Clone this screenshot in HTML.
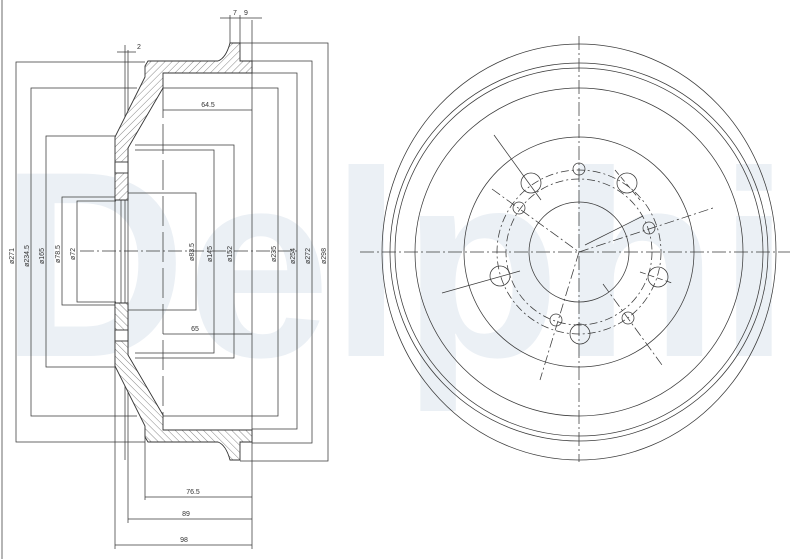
<!DOCTYPE html>
<html><head><meta charset="utf-8"><style>
html,body{margin:0;padding:0;background:#fff;}
svg{display:block;font-family:"Liberation Sans",sans-serif;}
</style></head><body>
<svg width="792" height="559" viewBox="0 0 792 559" xmlns="http://www.w3.org/2000/svg">
<defs>
<pattern id="h" width="5" height="5" patternUnits="userSpaceOnUse" patternTransform="rotate(45)">
<rect width="5" height="5" fill="#fff"/><line x1="0" y1="0" x2="0" y2="5" stroke="#555" stroke-width="0.7"/>
</pattern>
</defs>
<rect width="792" height="559" fill="#fff"/>
<text x="0" y="356" font-size="265" font-weight="bold" fill="#ebf0f5" textLength="790" lengthAdjust="spacingAndGlyphs">Delphi</text>

<g stroke="#3a3a3a" stroke-width="0.75" fill="none">
<line x1="2" y1="0" x2="2" y2="559"/>
<polyline points="145,62 16,62 16,442 145,442"/>
<polyline points="137,88 31,88 31,416 137,416"/>
<polyline points="115,136 46,136 46,367 115,367"/>
<polyline points="115,197 62,197 62,305 115,305"/>
<polyline points="116,201 77,201 77,302 116,302"/>
<polyline points="128,193 196,193 196,310 128,310"/>
<polyline points="135,150 214,150 214,353 135,353"/>
<polyline points="135,145 234,145 234,358 135,358"/>
<polyline points="163,88 278,88 278,416 163,416"/>
<polyline points="252,73 297,73 297,429 252,429"/>
<polyline points="252,61 312,61 312,443 252,443"/>
<polyline points="240,43 328,43 328,461 240,461"/>
<line x1="115" y1="199" x2="115" y2="549"/>
<line x1="121" y1="200" x2="121" y2="305"/>
<line x1="125" y1="45" x2="125" y2="460"/>
<line x1="128" y1="50" x2="128" y2="523"/>
<line x1="145" y1="420" x2="145" y2="500"/>
<line x1="163" y1="88" x2="163" y2="416" stroke-dasharray="30,6"/>
<line x1="252" y1="20" x2="252" y2="549"/>
<line x1="230" y1="15" x2="230" y2="43"/>
<line x1="240" y1="15" x2="240" y2="43"/>
<line x1="163" y1="110" x2="252" y2="110"/>
<line x1="163" y1="334" x2="252" y2="334"/>
<line x1="145" y1="497" x2="252" y2="497"/>
<line x1="128" y1="519" x2="252" y2="519"/>
<line x1="115" y1="545" x2="252" y2="545"/>
<line x1="220" y1="18" x2="262" y2="18"/>
<line x1="117" y1="52" x2="136" y2="52"/>
<line x1="80" y1="251" x2="300" y2="251" stroke-dasharray="14,3,2,3"/>
</g>

<g stroke="#333" stroke-width="0.9">
<path fill="url(#h)" d="M148,61 L218,61 Q226,58 230,43 L240,43 L240,61 L252,61 L252,73 L163,73 L163,88 L128,148 L128,200 L115,200 L115,137 L145,77 L145,66 Z"/>
<path fill="url(#h)" transform="translate(0,503) scale(1,-1)" d="M148,61 L218,61 Q226,58 230,43 L240,43 L240,61 L252,61 L252,73 L163,73 L163,88 L128,148 L128,200 L115,200 L115,137 L145,77 L145,66 Z"/>
<rect x="115" y="162" width="13" height="11" fill="#fff"/>
<rect x="115" y="330" width="13" height="11" fill="#fff"/>
</g>

<g font-size="7" fill="#333">
<text x="235" y="15" text-anchor="middle">7</text>
<text x="246" y="15" text-anchor="middle">9</text>
<text x="139" y="49" text-anchor="middle">2</text>
<text x="208" y="107" text-anchor="middle">64.5</text>
<text x="195" y="331" text-anchor="middle">65</text>
<text x="193" y="494" text-anchor="middle">76.5</text>
<text x="186" y="516" text-anchor="middle">89</text>
<text x="184" y="542" text-anchor="middle">98</text>
<g text-anchor="middle">
<text transform="translate(14,256) rotate(-90)">ø271</text>
<text transform="translate(29,256) rotate(-90)">ø234.5</text>
<text transform="translate(44,256) rotate(-90)">ø165</text>
<text transform="translate(60,254) rotate(-90)">ø78.5</text>
<text transform="translate(75,254) rotate(-90)">ø72</text>
<text transform="translate(194,252) rotate(-90)">ø83.5</text>
<text transform="translate(212,254) rotate(-90)">ø145</text>
<text transform="translate(232,254) rotate(-90)">ø152</text>
<text transform="translate(276,254) rotate(-90)">ø235</text>
<text transform="translate(295,256) rotate(-90)">ø254</text>
<text transform="translate(310,256) rotate(-90)">ø272</text>
<text transform="translate(326,256) rotate(-90)">ø298</text>
</g>
</g>

<g stroke="#3a3a3a" stroke-width="0.75" fill="none">
<ellipse cx="579" cy="252" rx="197" ry="208"/>
<circle cx="579" cy="252" r="189"/>
<circle cx="579" cy="252" r="184"/>
<circle cx="579" cy="252" r="164"/>
<circle cx="579" cy="252" r="115"/>
<circle cx="579" cy="252" r="50"/>
<circle cx="579" cy="252" r="82" stroke-dasharray="8,3,2,3"/>
<circle cx="579" cy="252" r="73" stroke-dasharray="8,3,2,3"/>
<line x1="360" y1="252" x2="790" y2="252" stroke-dasharray="14,3,2,3"/>
<line x1="579" y1="36" x2="579" y2="462" stroke-dasharray="14,3,2,3"/>
<circle cx="579" cy="169" r="6"/>
<circle cx="531" cy="183" r="10"/>
<circle cx="627" cy="183" r="10"/>
<circle cx="519" cy="208" r="6"/>
<circle cx="649" cy="228" r="6"/>
<circle cx="500" cy="276" r="10"/>
<circle cx="658" cy="277" r="10"/>
<circle cx="556" cy="320" r="6"/>
<circle cx="580" cy="334" r="10"/>
<circle cx="628" cy="318" r="6"/>
<line x1="494" y1="135" x2="541" y2="200"/>
<line x1="492" y1="189" x2="579" y2="252" stroke-dasharray="10,3,2,3"/>
<line x1="442" y1="293" x2="520" y2="271"/>
<line x1="585" y1="245" x2="643" y2="216"/>
<line x1="579" y1="252" x2="713" y2="208" stroke-dasharray="10,3,2,3"/>
<line x1="579" y1="252" x2="540" y2="380" stroke-dasharray="10,3,2,3"/>
<line x1="603" y1="284" x2="662" y2="365" stroke-dasharray="10,3,2,3"/>
<line x1="640" y1="272" x2="672" y2="283" stroke-dasharray="6,3"/>
<line x1="615" y1="170" x2="640" y2="200" stroke-dasharray="6,3"/>
</g>
</svg>
</body></html>
